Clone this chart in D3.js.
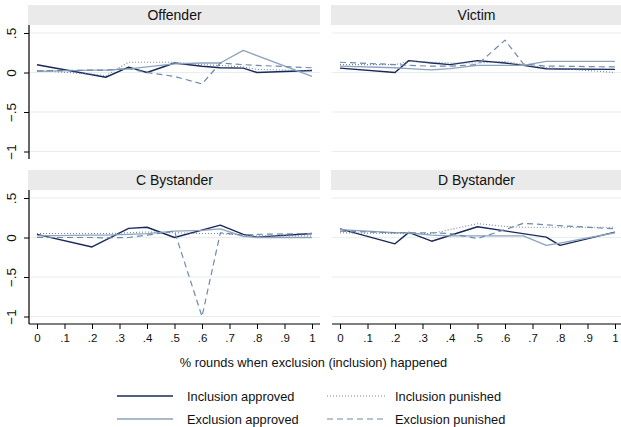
<!DOCTYPE html>
<html>
<head>
<meta charset="utf-8">
<script src="https://cdn.jsdelivr.net/npm/d3@7"></script>
<style>
  html, body { margin: 0; padding: 0; background: #fff; }
  svg { display: block; font-family: "Liberation Sans", Arial, Helvetica, sans-serif; }
</style>
</head>
<body>
<svg id="chart" width="621" height="427"></svg>
<script>
// Share of rounds in which exclusion (inclusion) happened
const shares = [0, 0.2, 0.25, 1 / 3, 0.4, 0.5, 0.6, 2 / 3, 0.75, 0.8, 1];

// Panel titles
const panels = ["Offender", "Victim", "C Bystander", "D Bystander"];

// Series names (legend order)
const seriesNames = ["Inclusion approved", "Inclusion punished", "Exclusion approved", "Exclusion punished"];

// Offender
const offenderInclusionApproved = [0.098, null, -0.06, 0.068, 0.0, 0.12, 0.08, 0.06, 0.055, 0.0, 0.025];
const offenderInclusionPunished = [0.025, -0.02, -0.04, 0.13, 0.13, 0.13, 0.1, 0.09, 0.07, 0.04, 0.02];
const offenderExclusionApproved = [0.015, 0.03, 0.03, 0.045, 0.07, 0.11, 0.12, 0.12, 0.28, null, -0.05];
const offenderExclusionPunished = [0.02, 0.03, 0.03, 0.05, 0.0, -0.05, -0.145, 0.12, 0.1, 0.09, 0.06];

// Victim
const victimInclusionApproved = [0.056, 0.0, 0.15, 0.12, 0.1, 0.15, 0.12, 0.09, 0.047, 0.045, 0.04];
const victimInclusionPunished = [0.1, 0.1, 0.14, 0.13, 0.12, 0.12, 0.14, 0.1, 0.06, 0.05, 0.0];
const victimExclusionApproved = [0.08, 0.06, 0.05, 0.034, 0.05, 0.09, 0.09, 0.09, 0.14, 0.14, 0.14];
const victimExclusionPunished = [0.13, 0.1, 0.09, 0.08, 0.08, 0.1, 0.41, 0.11, 0.08, 0.08, 0.07];

// C Bystander
const cBystInclusionApproved = [0.04, -0.12, null, 0.115, 0.13, 0.0, null, 0.157, 0.04, 0.005, 0.05];
const cBystInclusionPunished = [0.05, 0.05, 0.05, 0.06, 0.07, 0.06, 0.05, 0.05, 0.03, 0.02, 0.02];
const cBystExclusionApproved = [0.02, 0.03, 0.03, 0.04, 0.05, 0.08, 0.09, 0.11, 0.015, 0.0, 0.0];
const cBystExclusionPunished = [0.0, 0.0, -0.005, 0.0, 0.03, 0.08, -1.0, 0.06, 0.03, 0.04, 0.05];

// D Bystander
const dBystInclusionApproved = [0.11, -0.08, 0.065, -0.047, null, 0.136, null, null, 0.005, -0.1, 0.068];
const dBystInclusionPunished = [0.06, 0.05, 0.05, 0.05, 0.1, 0.175, 0.14, 0.13, 0.13, 0.13, 0.13];
const dBystExclusionApproved = [0.1, 0.06, 0.06, 0.03, 0.02, 0.02, 0.02, 0.02, -0.1, -0.07, 0.06];
const dBystExclusionPunished = [0.08, 0.06, 0.06, 0.06, 0.05, -0.013, 0.1, 0.18, 0.16, 0.15, 0.11];

// Axis ticks
const yTicks = [-1, -0.5, 0, 0.5];
const yTickLabels = ["\u22121", "\u2212.5", "0", ".5"];
const xTicks = [0, 0.1, 0.2, 0.3, 0.4, 0.5, 0.6, 0.7, 0.8, 0.9, 1];
const xTickLabels = ["0", ".1", ".2", ".3", ".4", ".5", ".6", ".7", ".8", ".9", "1"];
const xTitle = "% rounds when exclusion (inclusion) happened";

const panelData = [
  [offenderInclusionApproved, offenderInclusionPunished, offenderExclusionApproved, offenderExclusionPunished],
  [victimInclusionApproved, victimInclusionPunished, victimExclusionApproved, victimExclusionPunished],
  [cBystInclusionApproved, cBystInclusionPunished, cBystExclusionApproved, cBystExclusionPunished],
  [dBystInclusionApproved, dBystInclusionPunished, dBystExclusionApproved, dBystExclusionPunished]
];

// Line styles per series
const styles = [
  { color: "#1a285a", width: 1.4, dash: null },
  { color: "#6f84a6", width: 1.1, dash: "1,2" },
  { color: "#8ea3bc", width: 1.3, dash: null },
  { color: "#6f89aa", width: 1.2, dash: "6,4" }
];

const svg = d3.select("#chart");

// Panel geometry
const cols = [{ x0: 29, x1: 320 }, { x0: 332, x1: 621 }];
const rows = [{ head: 5, top: 25, bottom: 159 }, { head: 170, top: 190, bottom: 324 }];
const gridColor = "#e5eef0";

panels.forEach((title, i) => {
  const c = cols[i % 2], r = rows[Math.floor(i / 2)];
  const x = d3.scaleLinear().domain([0, 1]).range([c.x0 + 8, c.x0 + 283]);
  const y = d3.scaleLinear().domain([-1, 0.5]).range([r.top + 126.5, r.top + 8]);
  const g = svg.append("g");

  // header strip
  g.append("rect")
    .attr("x", c.x0 - 1).attr("y", r.head)
    .attr("width", c.x1 - c.x0 + 1).attr("height", r.top - r.head)
    .attr("fill", "#eaeaea");
  g.append("text")
    .attr("x", (c.x0 + c.x1) / 2).attr("y", (r.head + r.top) / 2 + 5)
    .attr("text-anchor", "middle")
    .attr("font-size", 14).attr("fill", "#111")
    .text(title);

  // horizontal gridlines
  g.append("g").selectAll("line").data(yTicks).join("line")
    .attr("x1", c.x0).attr("x2", c.x1)
    .attr("y1", d => y(d)).attr("y2", d => y(d))
    .attr("stroke", gridColor).attr("stroke-width", 1.2);

  // y axis on left column
  if (i % 2 === 0) {
    const ya = g.append("g").attr("transform", `translate(${c.x0},0)`)
      .call(d3.axisLeft(y).tickValues(yTicks).tickSize(5).tickSizeOuter(0)
        .tickFormat((d, k) => yTickLabels[k]));
    ya.select(".domain").attr("d", `M0,${r.top}V${r.bottom}`).attr("stroke", "#000").attr("stroke-width", 1.2);
    ya.selectAll(".tick line").attr("stroke", "#000");
    ya.selectAll(".tick text")
      .attr("font-size", 13.5).attr("fill", "#111")
      .attr("x", null).attr("dy", null)
      .attr("text-anchor", "middle")
      .attr("transform", "translate(-17,0) rotate(-90)")
      .attr("y", 4);
  }

  // x axis on bottom row
  if (i >= 2) {
    const xa = g.append("g").attr("transform", `translate(0,${r.bottom})`)
      .call(d3.axisBottom(x).tickValues(xTicks).tickSize(5).tickSizeOuter(0)
        .tickFormat((d, k) => xTickLabels[k]));
    xa.select(".domain").attr("d", `M${c.x0},0H${c.x1}`).attr("stroke", "#000").attr("stroke-width", 1.2);
    xa.selectAll(".tick line").attr("stroke", "#000");
    xa.selectAll(".tick text").attr("font-size", 11.5).attr("fill", "#111").attr("dy", "0.9em");
  }

  // series lines
  const line = d3.line().x(d => x(d[0])).y(d => y(d[1]));
  panelData[i].forEach((vals, s) => {
    const pts = shares.map((v, k) => [v, vals[k]]).filter(d => d[1] !== null);
    const st = styles[s];
    g.append("path")
      .attr("d", line(pts))
      .attr("fill", "none")
      .attr("stroke", st.color)
      .attr("stroke-width", st.width)
      .attr("stroke-dasharray", st.dash)
      .attr("stroke-linejoin", "round");
  });
});

// x axis title
svg.append("text")
  .attr("x", 313.5).attr("y", 367)
  .attr("text-anchor", "middle")
  .attr("font-size", 12.8).attr("fill", "#111")
  .text(xTitle);

// legend
const legendPos = [
  { lx: 117, ly: 396 },
  { lx: 327, ly: 396 },
  { lx: 117, ly: 419 },
  { lx: 327, ly: 419 }
];
seriesNames.forEach((name, s) => {
  const p = legendPos[s], st = styles[s];
  const lw = s % 2 === 0 ? 56 : 60;
  svg.append("line")
    .attr("x1", p.lx).attr("x2", p.lx + lw)
    .attr("y1", p.ly).attr("y2", p.ly)
    .attr("stroke", st.color).attr("stroke-width", st.width)
    .attr("stroke-dasharray", st.dash);
  svg.append("text")
    .attr("x", p.lx + lw + (s % 2 === 0 ? 14 : 8)).attr("y", p.ly + 4.5)
    .attr("font-size", 12.8).attr("fill", "#111")
    .text(name);
});
</script>
</body>
</html>
